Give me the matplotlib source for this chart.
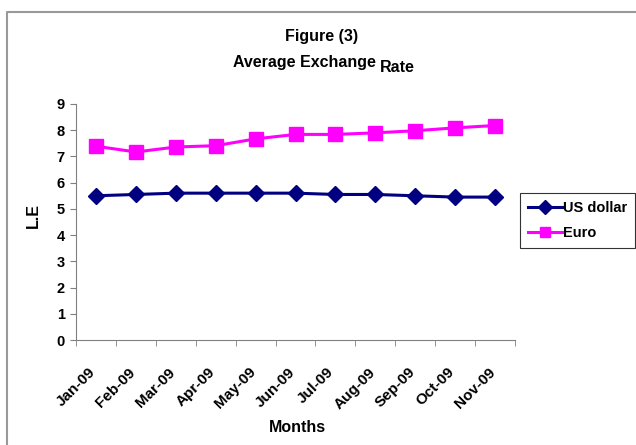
import matplotlib.pyplot as plt
from matplotlib.lines import Line2D
from matplotlib.transforms import ScaledTranslation
import numpy as np

plt.rcParams['font.family'] = ['Liberation Sans', 'DejaVu Sans']
plt.rcParams['font.weight'] = 'bold'

months = ['Jan-09', 'Feb-09', 'Mar-09', 'Apr-09', 'May-09', 'Jun-09',
          'Jul-09', 'Aug-09', 'Sep-09', 'Oct-09', 'Nov-09']
us_dollar = [5.50, 5.55, 5.60, 5.60, 5.60, 5.60, 5.55, 5.55, 5.50, 5.45, 5.45]
euro = [7.39, 7.17, 7.36, 7.41, 7.67, 7.84, 7.84, 7.90, 7.98, 8.09, 8.18]

W, H = 636, 445
fig = plt.figure(figsize=(W / 100, H / 100), dpi=100)
ax = fig.add_axes([76 / W, 1 - 340 / H, (515 - 76) / W, (340 - 104) / H])

x = np.arange(len(months))
ax.plot(x, us_dollar, color='#000080', lw=2.2, marker='D', ms=8.5,
        label='US dollar')
ax.plot(x, euro, color='#FF00FF', lw=2.2, marker='s', ms=9.5,
        label='Euro')

ax.set_xlim(-0.5, len(months) - 0.5)
ax.set_ylim(0, 9)
ax.set_yticks(range(10))
ax.tick_params(axis='y', labelsize=10.5, length=4, color='#808080', pad=4)
ax.set_xticks(x)
ax.set_xticklabels(months, rotation=45, ha='center', va='top', fontsize=11)
ax.tick_params(axis='x', which='major', length=0, pad=18)
shift = ScaledTranslation(-0.2, 0, fig.dpi_scale_trans)
for lab in ax.get_xticklabels():
    lab.set_transform(lab.get_transform() + shift)
ax.set_xticks(np.arange(-0.5, len(months)), minor=True)
ax.tick_params(axis='x', which='minor', length=4, color='#808080')

for s in ['top', 'right']:
    ax.spines[s].set_visible(False)
for s in ['left', 'bottom']:
    ax.spines[s].set_color('#808080')

fig.text(297 / W, 1 - 427 / H, 'Months', fontsize=11.5, ha='center', va='center')
fig.text(33 / W, 1 - 215 / H, 'L.E', rotation=90, fontsize=11.5,
         ha='center', va='center')

fig.text(322 / W, 1 - 37 / H, 'Figure (3)', fontsize=11.5, ha='center', va='center')
fig.text(376 / W, 1 - 62 / H, 'Average Exchange', fontsize=11.5, ha='right', va='center')
fig.text(380 / W, 1 - 67 / H, 'Rate', fontsize=11.5, ha='left', va='center')

leg = fig.legend(loc='upper left', bbox_to_anchor=(520 / W, 1 - 193 / H),
                 fontsize=10.5, frameon=True, fancybox=False, edgecolor='black',
                 handlelength=2.3, handletextpad=0.1, borderpad=0.55,
                 labelspacing=0.75, borderaxespad=0, markerscale=0.8)
leg.get_frame().set_linewidth(0.8)

# outer chart border (left and top only visible)
fig.add_artist(Line2D([7 / W, 7 / W, 1], [0, 1 - 12 / H, 1 - 12 / H],
                      transform=fig.transFigure, color='#999999', lw=1.5))

fig.savefig('out.png', dpi=100)
